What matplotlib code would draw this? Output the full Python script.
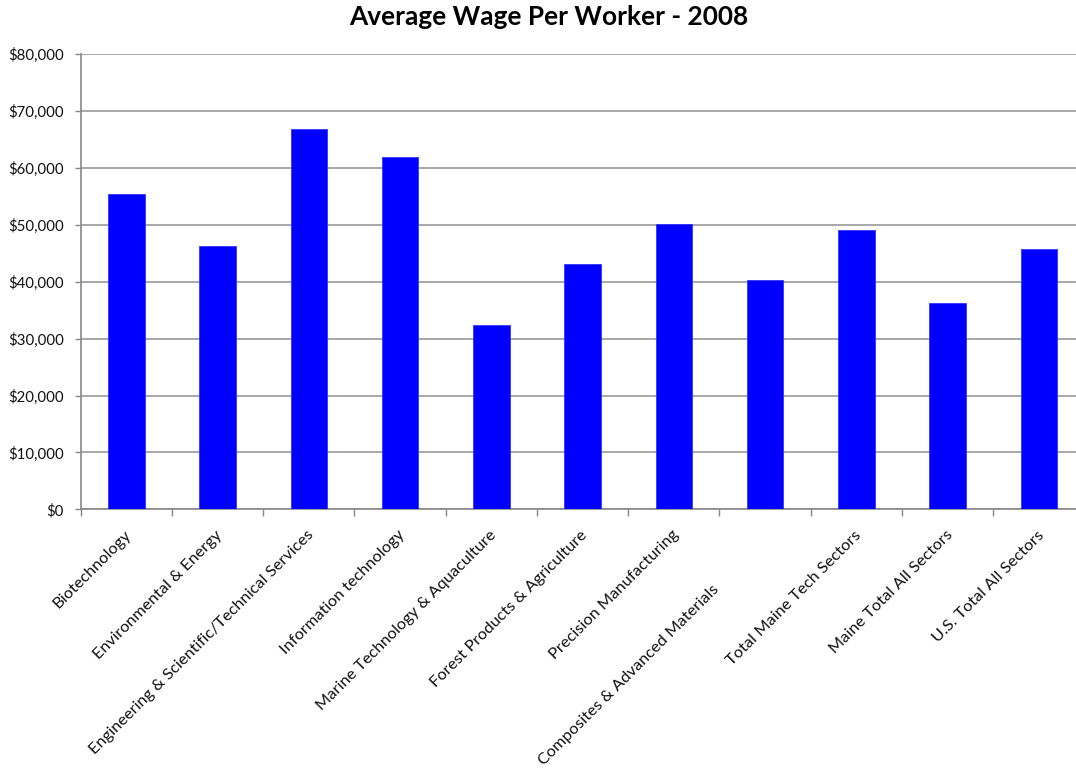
import matplotlib
matplotlib.use("Agg")
import matplotlib.pyplot as plt
from matplotlib.ticker import FuncFormatter, FixedLocator, NullFormatter
import numpy as np

sectors = [
    "Biotechnology",
    "Environmental & Energy",
    "Engineering & Scientific/Technical Services",
    "Information technology",
    "Marine Technology & Aquaculture",
    "Forest Products & Agriculture",
    "Precision Manufacturing",
    "Composites & Advanced Materials",
    "Total Maine Tech Sectors",
    "Maine Total All Sectors",
    "U.S. Total All Sectors",
]
avg_wage = [55400, 46300, 66800, 61900, 32400, 43100, 50200, 40300, 49100, 36300, 45800]
y_ticks = [0, 10000, 20000, 30000, 40000, 50000, 60000, 70000, 80000]

plt.rcParams["font.family"] = ["Lato", "DejaVu Sans"]

W, H = 1076, 770
fig = plt.figure(figsize=(W / 100, H / 100), dpi=100)
left, right, top, bottom = 80.7, 1084.5, 54.3, 509.3
ax = fig.add_axes([left / W, 1 - bottom / H, (right - left) / W, (bottom - top) / H])

x = np.arange(len(sectors))
ax.bar(x, avg_wage, width=0.40, color="#0000FF", edgecolor="#3333FF", linewidth=0.6, zorder=3)

ax.set_xlim(-0.5, len(sectors) - 0.5)
ax.set_ylim(0, 80000)
ax.set_yticks(y_ticks)
ax.yaxis.set_major_formatter(FuncFormatter(lambda v, p: f"${v:,.0f}"))
ax.yaxis.grid(True, color="#A0A0A0", linewidth=1.3, zorder=0)
ax.tick_params(axis="y", length=4, color="#888888", width=1, labelsize=10.8, pad=8, labelcolor="#111111")

ax.xaxis.set_major_locator(FixedLocator(np.arange(len(sectors) + 1) - 0.5))
ax.xaxis.set_major_formatter(NullFormatter())
ax.tick_params(axis="x", length=5, color="#888888", width=1)
for xi, name in zip(x, sectors):
    dx, dy = 2, -17
    if name.startswith("Composites"):
        # this label sits further down its own diagonal
        dx, dy = dx - 37, dy - 39
    ax.annotate(name, xy=(xi, 0), xycoords=("data", "axes fraction"),
                xytext=(dx, dy), textcoords="offset points",
                rotation=45, rotation_mode="anchor", ha="right", va="center",
                fontsize=11.8, color="#111111")

for side in ["top", "right"]:
    ax.spines[side].set_visible(False)
for side in ["left", "bottom"]:
    ax.spines[side].set_color("#888888")
    ax.spines[side].set_linewidth(1.2)

fig.text(549 / W, 1 - 17 / H, "Average Wage Per Worker - 2008", ha="center", va="center",
         fontsize=18.9, fontweight="bold", color="#000000")

fig.savefig("out.png", dpi=100)
